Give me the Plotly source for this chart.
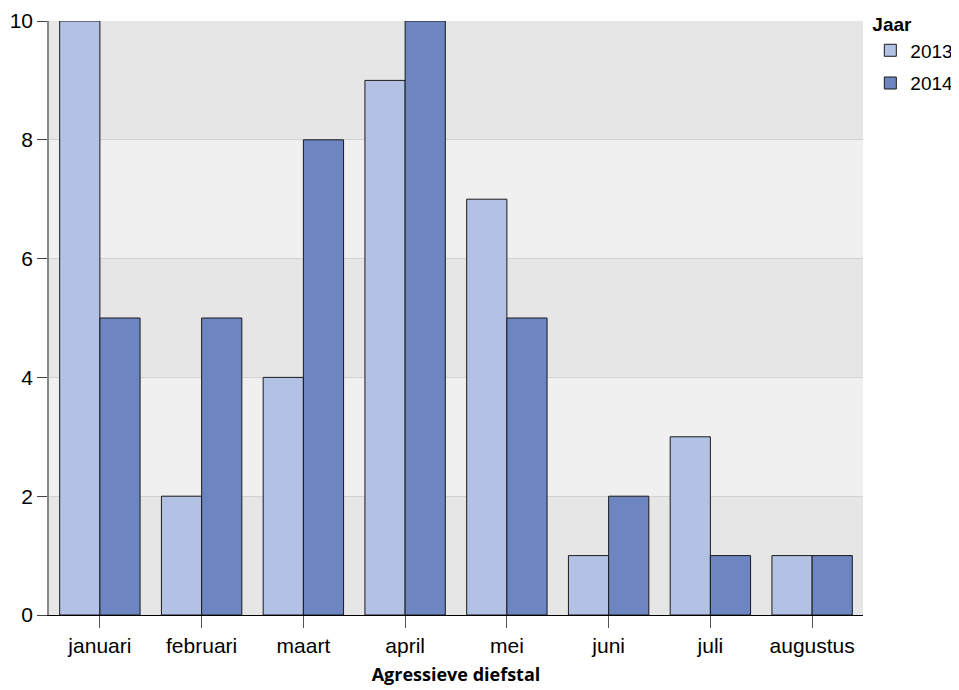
import plotly.graph_objects as go

months = ["januari", "februari", "maart", "april", "mei", "juni", "juli", "augustus"]
v2013 = [10, 2, 4, 9, 7, 1, 3, 1]
v2014 = [5, 5, 8, 10, 5, 2, 1, 1]
years = ["2013", "2014"]
colors = ["#b3c2e4", "#6d85c0"]
y_ticks = [0, 2, 4, 6, 8, 10]

fig = go.Figure()
for name, vals, c in zip(years, [v2013, v2014], colors):
    fig.add_trace(go.Bar(x=months, y=vals, name=name, legendgroup=name,
                         marker=dict(color=c, line=dict(color="#1a1a1a", width=1))))

shapes = []
for i in range(0, len(y_ticks) - 1, 2):
    shapes.append(dict(type="rect", xref="paper", yref="y", x0=0, x1=1,
                       y0=y_ticks[i], y1=y_ticks[i + 1], fillcolor="#e6e6e6",
                       line=dict(width=0), layer="below"))

# page body has an 8px default margin, so figure is 8px smaller than the window
fig.update_layout(
    width=951, height=682,
    margin=dict(l=41, r=96, t=13, b=75, autoexpand=False),
    paper_bgcolor="white", plot_bgcolor="#f0f0f0",
    barmode="group", bargap=0.21, bargroupgap=0,
    shapes=shapes,
    font=dict(family="Liberation Sans, Arial", size=21, color="black"),
    legend=dict(title=dict(text="<b>Jaar</b>", font=dict(size=19)),
                x=1.009, xanchor="left", y=1.024, yanchor="top",
                font=dict(size=19), tracegroupgap=5, itemwidth=30),
    xaxis=dict(title=dict(text="Agressieve diefstal",
                          font=dict(family="Open Sans", size=18, weight=700), standoff=12),
               showline=True, linecolor="black", linewidth=1, automargin=False,
               ticks="outside", ticklen=12, tickcolor="#555", showgrid=False),
    yaxis=dict(range=[0, 10], tickvals=y_ticks, showline=True, linecolor="#888", linewidth=1.5,
               ticks="outside", ticklen=10, tickcolor="#444", showgrid=True, automargin=False,
               gridcolor="#d2d2d2", zeroline=False),
)
fig.write_html("out.html")
